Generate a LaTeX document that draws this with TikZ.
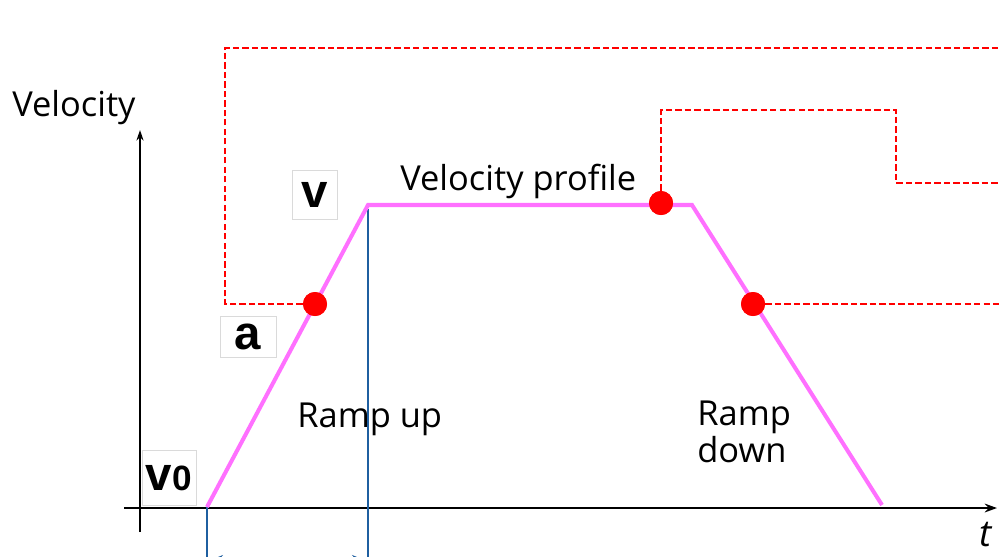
\documentclass[tikz,border=0pt]{standalone}
\usepackage{fontspec}
\setmainfont{Open Sans}
\newfontfamily\symfont{Liberation Sans}
\usetikzlibrary{arrows.meta,positioning}
\definecolor{profilepink}{RGB}{255,112,255}
\definecolor{markred}{RGB}{255,0,0}
\definecolor{guideblue}{RGB}{31,95,160}
\definecolor{boxgray}{RGB}{218,218,218}

\begin{document}
\begin{tikzpicture}[x=0.02cm, y=-0.02cm,
  lbl/.style={font=\fontsize{19.6}{21}\selectfont, anchor=base west, inner sep=0pt},
  symbox/.style={draw=boxgray, fill=white, inner sep=0pt,
    font=\symfont\fontsize{27}{30}\selectfont},
  dot/.style={circle, fill=markred, inner sep=0pt, minimum size=0.48cm},
  axis/.style={line width=1.1pt, -{Stealth[length=7pt, width=5pt]}},
  profile/.style={profilepink, line width=2.3pt, line join=miter},
  guide/.style={guideblue, line width=0.7pt},
  limit/.style={markred, line width=1.3pt, dash pattern=on 3.6pt off 1.8pt},
]
  \useasboundingbox (0,0) rectangle (999,556);
  \clip (0,0) rectangle (999,556);

  % Axes
  \coordinate (xstart) at (124,508);
  \coordinate (xend) at (997,508);
  \coordinate (ystart) at (140,532);
  \coordinate (yend) at (140,130);
  \draw[axis] (xstart) -- (xend);
  \draw[line width=0.8pt, -{Stealth[length=6pt, width=4pt]}] (ystart) -- (yend);

  % Profile corners
  \coordinate (p0) at (207,507);
  \coordinate (p1) at (368,205);
  \coordinate (p2) at (692,205);
  \coordinate (p3) at (882,505);

  % Guide lines and span
  \coordinate (g0) at (207,570);
  \coordinate (g1) at (368,570);
  \coordinate (g1top) at (368,209);
  \draw[guide] (p0) -- (g0);
  \draw[guide] (g1top) -- (g1);
  \coordinate (spanl) at (208,561);
  \coordinate (spanr) at (367,561);
  \draw[guide, {Stealth[length=8.5pt, width=6.8pt]}-{Stealth[length=8.5pt, width=6.8pt]}]
    (spanl) -- (spanr);

  % Velocity profile
  \draw[profile] (p0) -- (p1) -- (p2) -- (p3);

  % Switch points
  \node[dot] (dup) at (315,304) {};
  \node[dot] (dtop) at (661,203) {};
  \node[dot] (ddown) at (753,304) {};

  % Dashed limits
  \coordinate (c1) at (225,304);
  \coordinate (c2) at (1005,48);
  \coordinate (c3) at (661,110);
  \coordinate (c4) at (896,183);
  \coordinate (c5) at (1005,183);
  \coordinate (c6) at (1005,304);
  \draw[limit] (dup) -- (c1) |- (c2);
  \draw[limit] (dtop) -- (c3) -| (c4) -- (c5);
  \draw[limit] (ddown) -- (c6);
  \node[dot] at (dup) {};
  \node[dot] at (dtop) {};
  \node[dot] at (ddown) {};

  % Texts
  \node[lbl] (vlabel) at (12,116) {Velocity};
  \node[lbl] (plabel) at (400,190) {Velocity profile};
  \node[lbl] (uplabel) at (297,427) {Ramp up};
  \node[lbl] (downlabel) at (697,425) {Ramp};
  \node[lbl] (downlabel2) at (697,462) {down};
  \node[lbl, font=\fontsize{21}{24}\selectfont\itshape] (tlabel) at (979,546) {t};

  % Symbols
  \node[symbox, minimum width=25.5pt, minimum height=27.8pt] (vsym) at (315,195) {\bfseries v};
  \node[symbox, minimum width=31.7pt, minimum height=23.2pt] (asym) at (248,337) {\bfseries a};
  \node[symbox, minimum width=30.6pt, minimum height=31.2pt] (v0sym) at (169,478)
    {\bfseries v\kern0.5pt{\fontsize{20}{22}\selectfont 0}};
\end{tikzpicture}
\end{document}
